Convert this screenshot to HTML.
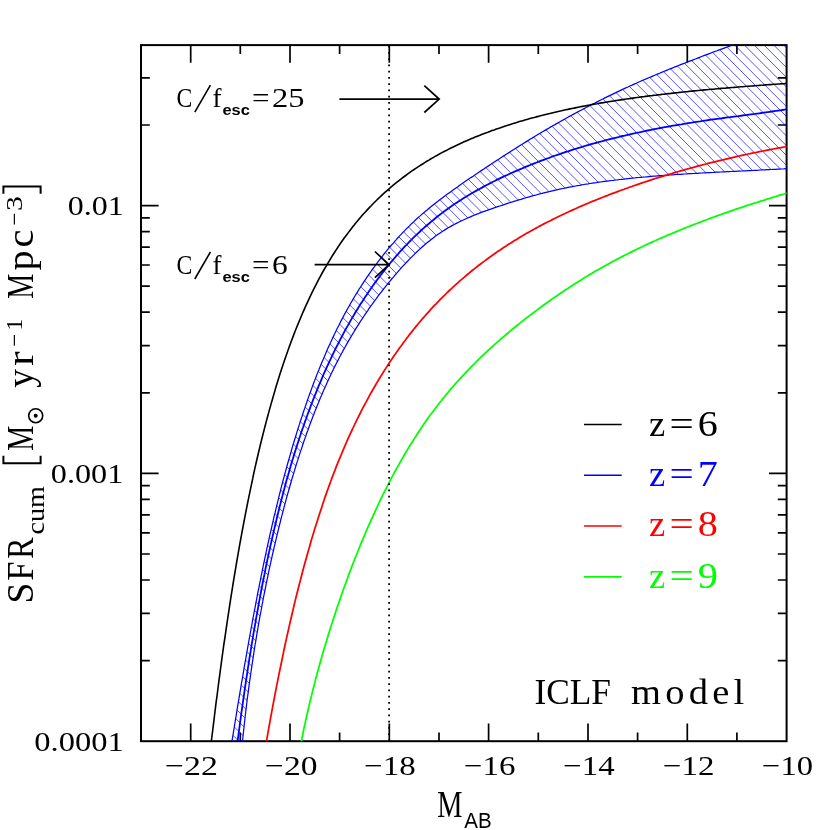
<!DOCTYPE html>
<html><head><meta charset="utf-8"><title>SFR cum</title>
<style>html,body{margin:0;padding:0;background:#fff}svg{display:block;will-change:transform}text{font-family:"Liberation Serif",serif;fill:#000}.ss{font-family:"Liberation Sans",sans-serif}</style></head><body>
<svg width="830" height="830" viewBox="0 0 830 830">
<rect width="830" height="830" fill="#fff"/>
<defs><clipPath id="fr"><rect x="141.0" y="45.1" width="645.6" height="696.1"/></clipPath>
<clipPath id="bd" clip-path="url(#fr)"><path d="M229.0,765.4 L229.7,759.4 L230.4,753.5 L231.1,747.6 L231.8,741.8 L232.8,736.2 L233.7,730.6 L234.6,725.0 L235.5,719.6 L236.4,714.2 L237.2,708.9 L238.1,703.6 L239.0,698.4 L239.8,693.3 L240.7,688.2 L241.5,683.2 L242.4,678.3 L243.2,673.4 L244.0,668.5 L244.8,663.8 L245.7,659.1 L246.5,654.4 L247.3,649.8 L248.1,645.3 L248.9,640.8 L249.7,636.4 L250.5,632.0 L251.3,627.7 L252.1,623.4 L252.8,619.2 L253.6,615.0 L254.4,610.9 L255.2,606.8 L255.9,602.8 L256.7,598.8 L257.4,594.9 L258.2,591.0 L259.0,587.2 L259.7,583.4 L260.5,579.6 L261.2,575.9 L262.0,572.2 L262.7,568.6 L263.4,565.0 L264.2,561.4 L264.9,557.9 L265.7,554.5 L266.4,551.0 L267.1,547.6 L267.8,544.3 L268.6,541.0 L269.3,537.7 L270.0,534.4 L270.8,531.2 L271.5,528.0 L272.2,524.9 L272.9,521.8 L273.6,518.7 L274.3,515.7 L275.1,512.7 L275.8,509.7 L276.5,506.7 L277.2,503.8 L277.9,500.9 L278.6,498.1 L279.3,495.2 L280.0,492.5 L280.7,489.7 L281.4,486.9 L282.1,484.2 L282.8,481.5 L283.5,478.9 L284.2,476.3 L284.9,473.7 L285.6,471.1 L286.3,468.5 L287.0,466.0 L287.7,463.5 L288.4,461.0 L289.1,458.6 L289.8,456.1 L290.5,453.7 L291.2,451.3 L291.8,449.0 L292.5,446.6 L293.2,444.3 L293.9,442.0 L294.6,439.8 L295.3,437.5 L296.0,435.3 L296.6,433.1 L297.3,430.9 L298.0,428.7 L298.7,426.6 L299.4,424.4 L300.0,422.3 L300.7,420.2 L301.4,418.2 L302.1,416.1 L302.7,414.1 L303.4,412.0 L304.1,410.0 L304.8,408.1 L305.4,406.1 L306.1,404.2 L306.8,402.2 L307.4,400.3 L308.1,398.4 L309.4,394.7 L310.8,391.0 L312.1,387.4 L313.4,383.8 L314.8,380.3 L316.1,376.8 L317.4,373.4 L318.8,370.1 L320.1,366.8 L321.4,363.6 L322.7,360.4 L324.1,357.2 L325.4,354.2 L326.7,351.1 L328.0,348.1 L329.3,345.2 L330.7,342.3 L332.0,339.4 L333.3,336.6 L334.7,333.8 L336.0,331.0 L337.3,328.3 L338.7,325.7 L340.0,323.0 L341.3,320.4 L342.7,317.9 L344.0,315.3 L345.3,312.9 L346.7,310.4 L348.0,308.0 L349.4,305.6 L350.7,303.2 L352.1,300.9 L353.4,298.6 L354.8,296.3 L356.1,294.1 L357.5,291.9 L358.8,289.7 L360.2,287.5 L361.6,285.4 L362.9,283.3 L364.3,281.2 L365.7,279.1 L367.0,277.1 L368.4,275.1 L369.8,273.1 L371.2,271.2 L372.5,269.2 L373.9,267.3 L375.3,265.4 L376.7,263.6 L378.1,261.7 L379.5,259.9 L380.9,258.1 L382.3,256.3 L383.6,254.5 L385.0,252.8 L386.4,251.1 L387.8,249.4 L389.2,247.7 L390.7,246.0 L392.1,244.4 L393.5,242.8 L394.9,241.1 L396.3,239.6 L397.7,238.0 L399.1,236.4 L400.6,234.9 L402.0,233.4 L403.4,231.9 L404.9,230.4 L406.3,228.9 L407.8,227.5 L409.2,226.1 L410.6,224.6 L412.1,223.2 L413.6,221.9 L415.7,219.8 L417.9,217.8 L420.1,215.9 L422.3,213.9 L424.6,212.0 L426.8,210.2 L429.0,208.3 L431.2,206.5 L433.4,204.7 L435.6,203.0 L437.9,201.3 L440.1,199.6 L442.3,197.9 L444.5,196.2 L446.7,194.6 L449.0,193.0 L451.2,191.4 L453.4,189.8 L455.6,188.2 L457.8,186.7 L460.0,185.1 L462.2,183.6 L464.4,182.1 L466.5,180.6 L468.7,179.1 L470.9,177.6 L473.1,176.2 L475.2,174.7 L477.4,173.3 L479.5,171.8 L481.7,170.4 L483.8,169.0 L485.9,167.5 L488.1,166.1 L490.2,164.7 L492.3,163.3 L494.4,161.9 L496.6,160.5 L498.7,159.2 L500.8,157.8 L502.9,156.4 L505.0,155.1 L507.1,153.7 L509.2,152.4 L511.3,151.0 L513.4,149.7 L515.4,148.4 L517.5,147.1 L519.6,145.8 L521.7,144.5 L523.8,143.2 L525.9,141.9 L528.0,140.6 L530.0,139.3 L532.1,138.1 L534.2,136.8 L536.3,135.5 L538.3,134.3 L540.4,133.1 L542.5,131.8 L544.6,130.6 L546.7,129.4 L548.7,128.2 L550.8,126.9 L552.9,125.7 L555.0,124.6 L557.0,123.4 L559.1,122.2 L561.2,121.0 L563.3,119.9 L565.3,118.7 L567.4,117.5 L569.5,116.4 L571.6,115.3 L573.7,114.1 L575.7,113.0 L577.8,111.9 L579.9,110.8 L582.0,109.7 L584.1,108.6 L586.1,107.5 L588.2,106.4 L590.3,105.3 L592.4,104.2 L594.5,103.2 L596.6,102.1 L598.6,101.1 L600.7,100.0 L602.8,99.0 L604.9,97.9 L607.0,96.9 L609.1,95.9 L611.2,94.9 L613.3,93.9 L615.4,92.9 L617.4,91.9 L619.5,90.9 L621.6,89.9 L623.7,88.9 L625.8,87.9 L627.9,87.0 L630.0,86.0 L632.1,85.1 L634.2,84.1 L636.3,83.2 L638.4,82.3 L640.5,81.3 L642.6,80.4 L644.7,79.5 L646.8,78.6 L648.9,77.7 L651.1,76.8 L653.2,75.9 L655.3,75.0 L657.4,74.1 L659.5,73.3 L661.6,72.4 L663.7,71.5 L665.8,70.6 L667.9,69.8 L670.0,68.9 L672.1,68.1 L674.2,67.2 L676.4,66.4 L678.5,65.5 L680.6,64.7 L682.7,63.9 L684.8,63.1 L686.9,62.2 L689.0,61.4 L691.1,60.6 L693.2,59.8 L695.4,59.0 L697.5,58.1 L699.6,57.3 L701.7,56.5 L703.8,55.7 L705.9,54.9 L708.0,54.1 L710.1,53.3 L712.2,52.5 L714.3,51.7 L716.4,51.0 L718.5,50.2 L720.7,49.4 L722.8,48.6 L724.9,47.8 L727.0,47.0 L729.1,46.3 L731.2,45.5 L733.3,44.7 L735.4,43.9 L737.5,43.2 L739.6,42.4 L741.7,41.6 L743.8,40.9 L745.9,40.1 L748.0,39.3 L750.1,38.6 L752.2,37.8 L754.3,37.1 L756.4,36.3 L758.5,35.6 L760.7,34.8 L762.8,34.1 L764.9,33.3 L767.0,32.6 L769.1,31.9 L771.2,31.1 L773.3,30.4 L775.4,29.7 L777.5,29.0 L779.6,28.2 L781.7,27.5 L783.8,26.8 L785.9,26.1 L788.0,25.3 L790.1,24.6 L791.5,24.2 L791.6,168.6 L790.1,168.6 L788.0,168.7 L785.9,168.7 L783.8,168.9 L781.7,169.0 L779.6,169.1 L777.5,169.2 L775.4,169.3 L773.3,169.4 L771.2,169.5 L769.1,169.6 L767.0,169.7 L764.9,169.8 L762.8,169.9 L760.7,170.0 L758.6,170.2 L756.5,170.3 L754.4,170.4 L752.3,170.5 L750.2,170.6 L748.1,170.7 L746.0,170.8 L743.9,170.9 L741.8,171.0 L739.7,171.1 L737.6,171.2 L735.5,171.3 L733.4,171.4 L731.2,171.5 L729.1,171.6 L727.0,171.7 L724.9,171.8 L722.8,171.9 L720.7,172.0 L718.6,172.1 L716.5,172.2 L714.4,172.3 L712.3,172.5 L710.2,172.6 L708.1,172.7 L706.0,172.8 L703.9,172.9 L701.8,173.0 L699.7,173.1 L697.6,173.3 L695.5,173.4 L693.4,173.5 L691.3,173.6 L689.2,173.7 L687.1,173.9 L684.9,174.0 L682.8,174.1 L680.7,174.3 L678.6,174.4 L676.5,174.5 L674.4,174.7 L672.3,174.8 L670.2,175.0 L668.1,175.1 L666.0,175.3 L663.9,175.4 L661.8,175.6 L659.7,175.7 L657.6,175.9 L655.5,176.1 L653.4,176.2 L651.3,176.4 L649.2,176.6 L647.0,176.8 L644.9,177.0 L642.8,177.2 L640.7,177.3 L638.6,177.5 L636.5,177.7 L634.4,178.0 L632.3,178.2 L630.2,178.4 L628.1,178.6 L626.0,178.8 L623.9,179.1 L621.8,179.3 L619.7,179.5 L617.6,179.8 L615.5,180.0 L613.4,180.3 L611.3,180.5 L609.1,180.8 L607.0,181.1 L604.9,181.4 L602.8,181.7 L600.7,182.0 L598.6,182.2 L596.5,182.6 L594.4,182.9 L592.3,183.2 L590.2,183.5 L588.1,183.9 L586.0,184.2 L583.9,184.5 L581.8,184.9 L579.7,185.3 L577.6,185.6 L575.5,186.0 L573.4,186.4 L571.3,186.8 L569.2,187.2 L567.1,187.6 L565.0,188.1 L562.9,188.5 L560.8,188.9 L558.7,189.4 L556.6,189.8 L554.5,190.3 L552.4,190.8 L550.3,191.3 L548.2,191.8 L546.1,192.3 L544.0,192.8 L541.9,193.4 L539.8,193.9 L537.7,194.5 L535.6,195.1 L533.5,195.6 L531.4,196.2 L529.3,196.8 L527.2,197.4 L525.1,198.0 L523.0,198.6 L520.9,199.3 L518.8,199.9 L516.7,200.6 L514.6,201.2 L512.5,201.9 L510.4,202.5 L508.3,203.2 L506.2,203.9 L504.1,204.6 L502.0,205.3 L499.8,206.0 L497.7,206.7 L495.6,207.4 L493.5,208.1 L491.3,208.9 L489.2,209.6 L487.0,210.4 L484.9,211.1 L482.7,211.9 L480.6,212.7 L478.4,213.6 L476.3,214.4 L474.1,215.3 L472.0,216.2 L469.8,217.1 L467.6,218.0 L465.5,219.0 L463.3,220.0 L461.1,221.0 L459.0,222.0 L456.8,223.1 L454.7,224.3 L452.5,225.4 L450.4,226.6 L448.2,227.8 L446.1,229.1 L444.0,230.4 L441.9,231.8 L439.8,233.2 L437.7,234.6 L435.6,236.1 L433.5,237.7 L431.5,239.2 L429.4,240.9 L427.4,242.5 L425.3,244.2 L423.3,246.0 L421.3,247.8 L419.3,249.6 L417.3,251.5 L415.3,253.4 L413.3,255.4 L411.3,257.4 L409.3,259.4 L407.3,261.5 L405.3,263.6 L403.3,265.7 L401.3,267.9 L399.4,270.1 L398.0,271.7 L396.7,273.2 L395.3,274.7 L394.0,276.3 L392.7,277.9 L391.3,279.5 L390.0,281.1 L388.6,282.7 L387.3,284.4 L385.9,286.1 L384.5,287.8 L383.2,289.5 L381.8,291.3 L380.4,293.1 L379.0,294.9 L377.7,296.7 L376.3,298.6 L374.9,300.4 L373.5,302.3 L372.1,304.3 L370.7,306.2 L369.3,308.2 L367.9,310.3 L366.5,312.3 L365.1,314.4 L363.7,316.5 L362.3,318.7 L360.8,320.8 L359.4,323.1 L358.0,325.3 L356.5,327.6 L355.1,329.9 L353.7,332.3 L352.2,334.7 L350.8,337.1 L349.3,339.6 L347.9,342.1 L346.4,344.6 L345.0,347.2 L343.5,349.9 L342.1,352.5 L340.6,355.3 L339.1,358.0 L337.7,360.9 L336.2,363.7 L334.7,366.6 L333.3,369.6 L331.8,372.6 L330.3,375.7 L328.9,378.8 L327.4,382.0 L326.0,385.2 L324.5,388.5 L323.0,391.8 L321.6,395.2 L320.1,398.6 L318.7,402.2 L317.2,405.7 L315.7,409.4 L314.3,413.1 L313.6,414.9 L312.8,416.8 L312.1,418.7 L311.4,420.6 L310.7,422.6 L309.9,424.5 L309.2,426.5 L308.5,428.5 L307.8,430.5 L307.0,432.5 L306.3,434.5 L305.6,436.6 L304.9,438.6 L304.1,440.7 L303.4,442.8 L302.7,445.0 L302.0,447.1 L301.3,449.3 L300.5,451.4 L299.8,453.6 L299.1,455.9 L298.4,458.1 L297.7,460.4 L296.9,462.6 L296.2,464.9 L295.5,467.2 L294.8,469.6 L294.1,471.9 L293.4,474.3 L292.6,476.7 L291.9,479.1 L291.2,481.5 L290.5,484.0 L289.8,486.5 L289.1,489.0 L288.4,491.5 L287.6,494.0 L286.9,496.6 L286.2,499.2 L285.5,501.8 L284.8,504.4 L284.1,507.1 L283.4,509.8 L282.7,512.5 L282.0,515.2 L281.3,517.9 L280.6,520.7 L279.9,523.5 L279.2,526.3 L278.5,529.2 L277.8,532.0 L277.1,534.9 L276.4,537.8 L275.7,540.8 L275.0,543.8 L274.3,546.7 L273.6,549.8 L272.9,552.8 L272.2,555.9 L271.5,559.0 L270.8,562.1 L270.1,565.3 L269.4,568.5 L268.7,571.7 L268.1,574.9 L267.4,578.2 L266.7,581.5 L266.0,584.8 L265.4,588.1 L264.7,591.5 L264.0,594.9 L263.3,598.4 L262.7,601.9 L262.0,605.4 L261.4,608.9 L260.7,612.5 L260.0,616.1 L259.4,619.7 L258.7,623.4 L258.1,627.0 L257.5,630.8 L256.8,634.5 L256.2,638.3 L255.6,642.2 L254.9,646.0 L254.3,649.9 L253.7,653.8 L253.1,657.8 L252.5,661.8 L251.9,665.8 L251.3,669.9 L250.7,674.0 L250.1,678.2 L249.5,682.3 L248.9,686.6 L248.4,690.8 L247.8,695.1 L247.2,699.4 L246.7,703.8 L246.2,708.2 L245.6,712.7 L245.1,717.2 L244.6,721.7 L244.1,726.3 L243.6,730.9 L243.1,735.5 L242.6,740.2 L241.9,744.9 L241.2,749.7 L240.5,754.5 L239.8,759.3 L239.1,764.2 L238.4,769.1Z"/></clipPath></defs>
<path d="M190.7,741.2v-17.6M190.7,45.1v17.6M240.3,741.2v-8.8M240.3,45.1v8.8M290.0,741.2v-17.6M290.0,45.1v17.6M339.6,741.2v-8.8M339.6,45.1v8.8M389.3,741.2v-17.6M389.3,45.1v17.6M439.0,741.2v-8.8M439.0,45.1v8.8M488.6,741.2v-17.6M488.6,45.1v17.6M538.3,741.2v-8.8M538.3,45.1v8.8M588.0,741.2v-17.6M588.0,45.1v17.6M637.6,741.2v-8.8M637.6,45.1v8.8M687.3,741.2v-17.6M687.3,45.1v17.6M736.9,741.2v-8.8M736.9,45.1v8.8M141.0,660.6h8.8M786.6,660.6h-8.8M141.0,613.4h8.8M786.6,613.4h-8.8M141.0,580.0h8.8M786.6,580.0h-8.8M141.0,554.0h8.8M786.6,554.0h-8.8M141.0,532.8h8.8M786.6,532.8h-8.8M141.0,514.9h8.8M786.6,514.9h-8.8M141.0,499.4h8.8M786.6,499.4h-8.8M141.0,485.7h8.8M786.6,485.7h-8.8M141.0,473.4h17.6M786.6,473.4h-17.6M141.0,392.8h8.8M786.6,392.8h-8.8M141.0,345.6h8.8M786.6,345.6h-8.8M141.0,312.2h8.8M786.6,312.2h-8.8M141.0,286.2h8.8M786.6,286.2h-8.8M141.0,265.0h8.8M786.6,265.0h-8.8M141.0,247.1h8.8M786.6,247.1h-8.8M141.0,231.6h8.8M786.6,231.6h-8.8M141.0,217.9h8.8M786.6,217.9h-8.8M141.0,205.6h17.6M786.6,205.6h-17.6M141.0,125.0h8.8M786.6,125.0h-8.8M141.0,77.8h8.8M786.6,77.8h-8.8" stroke="#000" stroke-width="1.7" fill="none"/>
<rect x="141.0" y="45.1" width="645.6" height="696.1" fill="none" stroke="#000" stroke-width="2"/>
<g clip-path="url(#bd)"><path d="M130,-637.73L800,32.27M130,-627.96L800,42.04M130,-618.19L800,51.81M130,-608.42L800,61.58M130,-598.65L800,71.35M130,-588.88L800,81.12M130,-579.11L800,90.89M130,-569.34L800,100.66M130,-559.57L800,110.43M130,-549.80L800,120.20M130,-540.03L800,129.97M130,-530.26L800,139.74M130,-520.49L800,149.51M130,-510.72L800,159.28M130,-500.95L800,169.05M130,-491.18L800,178.82M130,-481.41L800,188.59M130,-471.64L800,198.36M130,-461.87L800,208.13M130,-452.10L800,217.90M130,-442.33L800,227.67M130,-432.56L800,237.44M130,-422.79L800,247.21M130,-413.02L800,256.98M130,-403.25L800,266.75M130,-393.48L800,276.52M130,-383.71L800,286.29M130,-373.94L800,296.06M130,-364.17L800,305.83M130,-354.40L800,315.60M130,-344.63L800,325.37M130,-334.86L800,335.14M130,-325.09L800,344.91M130,-315.32L800,354.68M130,-305.55L800,364.45M130,-295.78L800,374.22M130,-286.01L800,383.99M130,-276.24L800,393.76M130,-266.47L800,403.53M130,-256.70L800,413.30M130,-246.93L800,423.07M130,-237.16L800,432.84M130,-227.39L800,442.61M130,-217.62L800,452.38M130,-207.85L800,462.15M130,-198.08L800,471.92M130,-188.31L800,481.69M130,-178.54L800,491.46M130,-168.77L800,501.23M130,-159.00L800,511.00M130,-149.23L800,520.77M130,-139.46L800,530.54M130,-129.69L800,540.31M130,-119.92L800,550.08M130,-110.15L800,559.85M130,-100.38L800,569.62M130,-90.61L800,579.39M130,-80.84L800,589.16M130,-71.07L800,598.93M130,-61.30L800,608.70M130,-51.53L800,618.47M130,-41.76L800,628.24M130,-31.99L800,638.01M130,-22.22L800,647.78M130,-12.45L800,657.55M130,-2.68L800,667.32M130,7.09L800,677.09M130,16.86L800,686.86M130,26.63L800,696.63M130,36.40L800,706.40M130,46.17L800,716.17M130,55.94L800,725.94M130,65.71L800,735.71M130,75.48L800,745.48M130,85.25L800,755.25M130,95.02L800,765.02M130,104.79L800,774.79M130,114.56L800,784.56M130,124.33L800,794.33M130,134.10L800,804.10M130,143.87L800,813.87M130,153.64L800,823.64M130,163.41L800,833.41M130,173.18L800,843.18M130,182.95L800,852.95M130,192.72L800,862.72M130,202.49L800,872.49M130,212.26L800,882.26M130,222.03L800,892.03M130,231.80L800,901.80M130,241.57L800,911.57M130,251.34L800,921.34M130,261.11L800,931.11M130,270.88L800,940.88M130,280.65L800,950.65M130,290.42L800,960.42M130,300.19L800,970.19M130,309.96L800,979.96M130,319.73L800,989.73M130,329.50L800,999.50M130,339.27L800,1009.27M130,349.04L800,1019.04M130,358.81L800,1028.81M130,368.58L800,1038.58M130,378.35L800,1048.35M130,388.12L800,1058.12M130,397.89L800,1067.89M130,407.66L800,1077.66M130,417.43L800,1087.43M130,427.20L800,1097.20M130,436.97L800,1106.97M130,446.74L800,1116.74M130,456.51L800,1126.51M130,466.28L800,1136.28M130,476.05L800,1146.05M130,485.82L800,1155.82M130,495.59L800,1165.59M130,505.36L800,1175.36M130,515.13L800,1185.13M130,524.90L800,1194.90M130,534.67L800,1204.67M130,544.44L800,1214.44M130,554.21L800,1224.21M130,563.98L800,1233.98M130,573.75L800,1243.75M130,583.52L800,1253.52M130,593.29L800,1263.29M130,603.06L800,1273.06M130,612.83L800,1282.83M130,622.60L800,1292.60M130,632.37L800,1302.37M130,642.14L800,1312.14M130,651.91L800,1321.91M130,661.68L800,1331.68M130,671.45L800,1341.45M130,681.22L800,1351.22M130,690.99L800,1360.99M130,700.76L800,1370.76M130,710.53L800,1380.53M130,720.30L800,1390.30M130,730.07L800,1400.07M130,739.84L800,1409.84M130,749.61L800,1419.61M130,759.38L800,1429.38" stroke="#0000ff" stroke-width="0.68" fill="none"/></g>
<g clip-path="url(#fr)" fill="none" stroke-linejoin="round">
<path d="M229.0,765.4 L229.7,759.4 L230.4,753.5 L231.1,747.6 L231.8,741.8 L232.8,736.2 L233.7,730.6 L234.6,725.0 L235.5,719.6 L236.4,714.2 L237.2,708.9 L238.1,703.6 L239.0,698.4 L239.8,693.3 L240.7,688.2 L241.5,683.2 L242.4,678.3 L243.2,673.4 L244.0,668.5 L244.8,663.8 L245.7,659.1 L246.5,654.4 L247.3,649.8 L248.1,645.3 L248.9,640.8 L249.7,636.4 L250.5,632.0 L251.3,627.7 L252.1,623.4 L252.8,619.2 L253.6,615.0 L254.4,610.9 L255.2,606.8 L255.9,602.8 L256.7,598.8 L257.4,594.9 L258.2,591.0 L259.0,587.2 L259.7,583.4 L260.5,579.6 L261.2,575.9 L262.0,572.2 L262.7,568.6 L263.4,565.0 L264.2,561.4 L264.9,557.9 L265.7,554.5 L266.4,551.0 L267.1,547.6 L267.8,544.3 L268.6,541.0 L269.3,537.7 L270.0,534.4 L270.8,531.2 L271.5,528.0 L272.2,524.9 L272.9,521.8 L273.6,518.7 L274.3,515.7 L275.1,512.7 L275.8,509.7 L276.5,506.7 L277.2,503.8 L277.9,500.9 L278.6,498.1 L279.3,495.2 L280.0,492.5 L280.7,489.7 L281.4,486.9 L282.1,484.2 L282.8,481.5 L283.5,478.9 L284.2,476.3 L284.9,473.7 L285.6,471.1 L286.3,468.5 L287.0,466.0 L287.7,463.5 L288.4,461.0 L289.1,458.6 L289.8,456.1 L290.5,453.7 L291.2,451.3 L291.8,449.0 L292.5,446.6 L293.2,444.3 L293.9,442.0 L294.6,439.8 L295.3,437.5 L296.0,435.3 L296.6,433.1 L297.3,430.9 L298.0,428.7 L298.7,426.6 L299.4,424.4 L300.0,422.3 L300.7,420.2 L301.4,418.2 L302.1,416.1 L302.7,414.1 L303.4,412.0 L304.1,410.0 L304.8,408.1 L305.4,406.1 L306.1,404.2 L306.8,402.2 L307.4,400.3 L308.1,398.4 L309.4,394.7 L310.8,391.0 L312.1,387.4 L313.4,383.8 L314.8,380.3 L316.1,376.8 L317.4,373.4 L318.8,370.1 L320.1,366.8 L321.4,363.6 L322.7,360.4 L324.1,357.2 L325.4,354.2 L326.7,351.1 L328.0,348.1 L329.3,345.2 L330.7,342.3 L332.0,339.4 L333.3,336.6 L334.7,333.8 L336.0,331.0 L337.3,328.3 L338.7,325.7 L340.0,323.0 L341.3,320.4 L342.7,317.9 L344.0,315.3 L345.3,312.9 L346.7,310.4 L348.0,308.0 L349.4,305.6 L350.7,303.2 L352.1,300.9 L353.4,298.6 L354.8,296.3 L356.1,294.1 L357.5,291.9 L358.8,289.7 L360.2,287.5 L361.6,285.4 L362.9,283.3 L364.3,281.2 L365.7,279.1 L367.0,277.1 L368.4,275.1 L369.8,273.1 L371.2,271.2 L372.5,269.2 L373.9,267.3 L375.3,265.4 L376.7,263.6 L378.1,261.7 L379.5,259.9 L380.9,258.1 L382.3,256.3 L383.6,254.5 L385.0,252.8 L386.4,251.1 L387.8,249.4 L389.2,247.7 L390.7,246.0 L392.1,244.4 L393.5,242.8 L394.9,241.1 L396.3,239.6 L397.7,238.0 L399.1,236.4 L400.6,234.9 L402.0,233.4 L403.4,231.9 L404.9,230.4 L406.3,228.9 L407.8,227.5 L409.2,226.1 L410.6,224.6 L412.1,223.2 L413.6,221.9 L415.7,219.8 L417.9,217.8 L420.1,215.9 L422.3,213.9 L424.6,212.0 L426.8,210.2 L429.0,208.3 L431.2,206.5 L433.4,204.7 L435.6,203.0 L437.9,201.3 L440.1,199.6 L442.3,197.9 L444.5,196.2 L446.7,194.6 L449.0,193.0 L451.2,191.4 L453.4,189.8 L455.6,188.2 L457.8,186.7 L460.0,185.1 L462.2,183.6 L464.4,182.1 L466.5,180.6 L468.7,179.1 L470.9,177.6 L473.1,176.2 L475.2,174.7 L477.4,173.3 L479.5,171.8 L481.7,170.4 L483.8,169.0 L485.9,167.5 L488.1,166.1 L490.2,164.7 L492.3,163.3 L494.4,161.9 L496.6,160.5 L498.7,159.2 L500.8,157.8 L502.9,156.4 L505.0,155.1 L507.1,153.7 L509.2,152.4 L511.3,151.0 L513.4,149.7 L515.4,148.4 L517.5,147.1 L519.6,145.8 L521.7,144.5 L523.8,143.2 L525.9,141.9 L528.0,140.6 L530.0,139.3 L532.1,138.1 L534.2,136.8 L536.3,135.5 L538.3,134.3 L540.4,133.1 L542.5,131.8 L544.6,130.6 L546.7,129.4 L548.7,128.2 L550.8,126.9 L552.9,125.7 L555.0,124.6 L557.0,123.4 L559.1,122.2 L561.2,121.0 L563.3,119.9 L565.3,118.7 L567.4,117.5 L569.5,116.4 L571.6,115.3 L573.7,114.1 L575.7,113.0 L577.8,111.9 L579.9,110.8 L582.0,109.7 L584.1,108.6 L586.1,107.5 L588.2,106.4 L590.3,105.3 L592.4,104.2 L594.5,103.2 L596.6,102.1 L598.6,101.1 L600.7,100.0 L602.8,99.0 L604.9,97.9 L607.0,96.9 L609.1,95.9 L611.2,94.9 L613.3,93.9 L615.4,92.9 L617.4,91.9 L619.5,90.9 L621.6,89.9 L623.7,88.9 L625.8,87.9 L627.9,87.0 L630.0,86.0 L632.1,85.1 L634.2,84.1 L636.3,83.2 L638.4,82.3 L640.5,81.3 L642.6,80.4 L644.7,79.5 L646.8,78.6 L648.9,77.7 L651.1,76.8 L653.2,75.9 L655.3,75.0 L657.4,74.1 L659.5,73.3 L661.6,72.4 L663.7,71.5 L665.8,70.6 L667.9,69.8 L670.0,68.9 L672.1,68.1 L674.2,67.2 L676.4,66.4 L678.5,65.5 L680.6,64.7 L682.7,63.9 L684.8,63.1 L686.9,62.2 L689.0,61.4 L691.1,60.6 L693.2,59.8 L695.4,59.0 L697.5,58.1 L699.6,57.3 L701.7,56.5 L703.8,55.7 L705.9,54.9 L708.0,54.1 L710.1,53.3 L712.2,52.5 L714.3,51.7 L716.4,51.0 L718.5,50.2 L720.7,49.4 L722.8,48.6 L724.9,47.8 L727.0,47.0 L729.1,46.3 L731.2,45.5 L733.3,44.7 L735.4,43.9 L737.5,43.2 L739.6,42.4 L741.7,41.6 L743.8,40.9 L745.9,40.1 L748.0,39.3 L750.1,38.6 L752.2,37.8 L754.3,37.1 L756.4,36.3 L758.5,35.6 L760.7,34.8 L762.8,34.1 L764.9,33.3 L767.0,32.6 L769.1,31.9 L771.2,31.1 L773.3,30.4 L775.4,29.7 L777.5,29.0 L779.6,28.2 L781.7,27.5 L783.8,26.8 L785.9,26.1 L788.0,25.3 L790.1,24.6 L791.5,24.2" stroke="#0000ff" stroke-width="1.25"/>
<path d="M238.4,769.1 L239.1,764.2 L239.8,759.3 L240.5,754.5 L241.2,749.7 L241.9,744.9 L242.6,740.2 L243.1,735.5 L243.6,730.9 L244.1,726.3 L244.6,721.7 L245.1,717.2 L245.6,712.7 L246.2,708.2 L246.7,703.8 L247.2,699.4 L247.8,695.1 L248.4,690.8 L248.9,686.6 L249.5,682.3 L250.1,678.2 L250.7,674.0 L251.3,669.9 L251.9,665.8 L252.5,661.8 L253.1,657.8 L253.7,653.8 L254.3,649.9 L254.9,646.0 L255.6,642.2 L256.2,638.3 L256.8,634.5 L257.5,630.8 L258.1,627.0 L258.7,623.4 L259.4,619.7 L260.0,616.1 L260.7,612.5 L261.4,608.9 L262.0,605.4 L262.7,601.9 L263.3,598.4 L264.0,594.9 L264.7,591.5 L265.4,588.1 L266.0,584.8 L266.7,581.5 L267.4,578.2 L268.1,574.9 L268.7,571.7 L269.4,568.5 L270.1,565.3 L270.8,562.1 L271.5,559.0 L272.2,555.9 L272.9,552.8 L273.6,549.8 L274.3,546.7 L275.0,543.8 L275.7,540.8 L276.4,537.8 L277.1,534.9 L277.8,532.0 L278.5,529.2 L279.2,526.3 L279.9,523.5 L280.6,520.7 L281.3,517.9 L282.0,515.2 L282.7,512.5 L283.4,509.8 L284.1,507.1 L284.8,504.4 L285.5,501.8 L286.2,499.2 L286.9,496.6 L287.6,494.0 L288.4,491.5 L289.1,489.0 L289.8,486.5 L290.5,484.0 L291.2,481.5 L291.9,479.1 L292.6,476.7 L293.4,474.3 L294.1,471.9 L294.8,469.6 L295.5,467.2 L296.2,464.9 L296.9,462.6 L297.7,460.4 L298.4,458.1 L299.1,455.9 L299.8,453.6 L300.5,451.4 L301.3,449.3 L302.0,447.1 L302.7,445.0 L303.4,442.8 L304.1,440.7 L304.9,438.6 L305.6,436.6 L306.3,434.5 L307.0,432.5 L307.8,430.5 L308.5,428.5 L309.2,426.5 L309.9,424.5 L310.7,422.6 L311.4,420.6 L312.1,418.7 L312.8,416.8 L313.6,414.9 L314.3,413.1 L315.7,409.4 L317.2,405.7 L318.7,402.2 L320.1,398.6 L321.6,395.2 L323.0,391.8 L324.5,388.5 L326.0,385.2 L327.4,382.0 L328.9,378.8 L330.3,375.7 L331.8,372.6 L333.3,369.6 L334.7,366.6 L336.2,363.7 L337.7,360.9 L339.1,358.0 L340.6,355.3 L342.1,352.5 L343.5,349.9 L345.0,347.2 L346.4,344.6 L347.9,342.1 L349.3,339.6 L350.8,337.1 L352.2,334.7 L353.7,332.3 L355.1,329.9 L356.5,327.6 L358.0,325.3 L359.4,323.1 L360.8,320.8 L362.3,318.7 L363.7,316.5 L365.1,314.4 L366.5,312.3 L367.9,310.3 L369.3,308.2 L370.7,306.2 L372.1,304.3 L373.5,302.3 L374.9,300.4 L376.3,298.6 L377.7,296.7 L379.0,294.9 L380.4,293.1 L381.8,291.3 L383.2,289.5 L384.5,287.8 L385.9,286.1 L387.3,284.4 L388.6,282.7 L390.0,281.1 L391.3,279.5 L392.7,277.9 L394.0,276.3 L395.3,274.7 L396.7,273.2 L398.0,271.7 L399.4,270.1 L401.3,267.9 L403.3,265.7 L405.3,263.6 L407.3,261.5 L409.3,259.4 L411.3,257.4 L413.3,255.4 L415.3,253.4 L417.3,251.5 L419.3,249.6 L421.3,247.8 L423.3,246.0 L425.3,244.2 L427.4,242.5 L429.4,240.9 L431.5,239.2 L433.5,237.7 L435.6,236.1 L437.7,234.6 L439.8,233.2 L441.9,231.8 L444.0,230.4 L446.1,229.1 L448.2,227.8 L450.4,226.6 L452.5,225.4 L454.7,224.3 L456.8,223.1 L459.0,222.0 L461.1,221.0 L463.3,220.0 L465.5,219.0 L467.6,218.0 L469.8,217.1 L472.0,216.2 L474.1,215.3 L476.3,214.4 L478.4,213.6 L480.6,212.7 L482.7,211.9 L484.9,211.1 L487.0,210.4 L489.2,209.6 L491.3,208.9 L493.5,208.1 L495.6,207.4 L497.7,206.7 L499.8,206.0 L502.0,205.3 L504.1,204.6 L506.2,203.9 L508.3,203.2 L510.4,202.5 L512.5,201.9 L514.6,201.2 L516.7,200.6 L518.8,199.9 L520.9,199.3 L523.0,198.6 L525.1,198.0 L527.2,197.4 L529.3,196.8 L531.4,196.2 L533.5,195.6 L535.6,195.1 L537.7,194.5 L539.8,193.9 L541.9,193.4 L544.0,192.8 L546.1,192.3 L548.2,191.8 L550.3,191.3 L552.4,190.8 L554.5,190.3 L556.6,189.8 L558.7,189.4 L560.8,188.9 L562.9,188.5 L565.0,188.1 L567.1,187.6 L569.2,187.2 L571.3,186.8 L573.4,186.4 L575.5,186.0 L577.6,185.6 L579.7,185.3 L581.8,184.9 L583.9,184.5 L586.0,184.2 L588.1,183.9 L590.2,183.5 L592.3,183.2 L594.4,182.9 L596.5,182.6 L598.6,182.2 L600.7,182.0 L602.8,181.7 L604.9,181.4 L607.0,181.1 L609.1,180.8 L611.3,180.5 L613.4,180.3 L615.5,180.0 L617.6,179.8 L619.7,179.5 L621.8,179.3 L623.9,179.1 L626.0,178.8 L628.1,178.6 L630.2,178.4 L632.3,178.2 L634.4,178.0 L636.5,177.7 L638.6,177.5 L640.7,177.3 L642.8,177.2 L644.9,177.0 L647.0,176.8 L649.2,176.6 L651.3,176.4 L653.4,176.2 L655.5,176.1 L657.6,175.9 L659.7,175.7 L661.8,175.6 L663.9,175.4 L666.0,175.3 L668.1,175.1 L670.2,175.0 L672.3,174.8 L674.4,174.7 L676.5,174.5 L678.6,174.4 L680.7,174.3 L682.8,174.1 L684.9,174.0 L687.1,173.9 L689.2,173.7 L691.3,173.6 L693.4,173.5 L695.5,173.4 L697.6,173.3 L699.7,173.1 L701.8,173.0 L703.9,172.9 L706.0,172.8 L708.1,172.7 L710.2,172.6 L712.3,172.5 L714.4,172.3 L716.5,172.2 L718.6,172.1 L720.7,172.0 L722.8,171.9 L724.9,171.8 L727.0,171.7 L729.1,171.6 L731.2,171.5 L733.4,171.4 L735.5,171.3 L737.6,171.2 L739.7,171.1 L741.8,171.0 L743.9,170.9 L746.0,170.8 L748.1,170.7 L750.2,170.6 L752.3,170.5 L754.4,170.4 L756.5,170.3 L758.6,170.2 L760.7,170.0 L762.8,169.9 L764.9,169.8 L767.0,169.7 L769.1,169.6 L771.2,169.5 L773.3,169.4 L775.4,169.3 L777.5,169.2 L779.6,169.1 L781.7,169.0 L783.8,168.9 L785.9,168.7 L788.0,168.7 L790.1,168.6 L791.6,168.6" stroke="#0000ff" stroke-width="1.25"/>
<path d="M294.9,770.3 L295.6,767.0 L296.3,763.8 L297.0,760.6 L297.7,757.4 L298.4,754.2 L299.1,751.1 L299.8,747.9 L300.5,744.8 L301.2,741.8 L301.9,738.7 L302.5,735.7 L303.1,732.6 L303.7,729.6 L304.3,726.7 L305.0,723.7 L305.6,720.8 L306.3,717.8 L306.9,715.0 L307.6,712.1 L308.2,709.2 L308.9,706.4 L309.5,703.6 L310.2,700.8 L310.9,698.1 L311.6,695.3 L312.2,692.6 L312.9,689.9 L313.6,687.2 L314.3,684.5 L315.0,681.9 L315.6,679.3 L316.3,676.7 L317.0,674.1 L317.7,671.5 L318.4,668.9 L319.1,666.4 L319.8,663.9 L320.5,661.4 L321.2,658.9 L321.9,656.5 L322.6,654.0 L323.3,651.6 L324.0,649.2 L324.7,646.8 L325.4,644.4 L326.2,642.0 L326.9,639.7 L327.6,637.4 L328.3,635.1 L329.0,632.8 L329.7,630.5 L330.4,628.2 L331.1,626.0 L331.8,623.8 L332.6,621.5 L333.3,619.3 L334.0,617.1 L334.7,615.0 L335.4,612.8 L336.1,610.7 L336.8,608.5 L337.5,606.4 L338.3,604.3 L339.0,602.2 L339.7,600.2 L340.4,598.1 L341.1,596.1 L341.8,594.0 L342.5,592.0 L343.2,590.0 L343.9,588.0 L344.6,586.0 L345.4,584.1 L346.1,582.1 L346.8,580.2 L347.5,578.2 L348.2,576.3 L348.9,574.4 L349.6,572.5 L350.3,570.7 L351.7,566.9 L353.1,563.3 L354.5,559.6 L356.0,556.0 L357.4,552.5 L358.8,549.0 L360.2,545.6 L361.6,542.2 L363.0,538.8 L364.4,535.5 L365.8,532.2 L367.2,528.9 L368.6,525.7 L370.0,522.6 L371.4,519.4 L372.8,516.3 L374.2,513.3 L375.6,510.3 L377.0,507.3 L378.3,504.3 L379.7,501.4 L381.1,498.5 L382.5,495.7 L383.9,492.9 L385.3,490.1 L386.7,487.3 L388.1,484.6 L389.5,481.9 L390.8,479.3 L392.2,476.7 L393.6,474.1 L395.0,471.5 L396.4,468.9 L397.8,466.4 L399.2,463.9 L400.6,461.5 L401.9,459.1 L403.3,456.7 L404.7,454.3 L406.1,451.9 L407.5,449.6 L408.9,447.3 L410.3,445.0 L411.7,442.8 L413.1,440.6 L414.5,438.4 L415.9,436.2 L417.3,434.0 L418.7,431.9 L420.1,429.8 L421.5,427.7 L422.9,425.6 L424.3,423.6 L425.7,421.6 L427.1,419.6 L428.5,417.6 L429.9,415.6 L431.3,413.7 L432.8,411.8 L434.2,409.9 L435.6,408.0 L437.0,406.2 L438.4,404.3 L439.8,402.5 L441.3,400.7 L442.7,398.9 L444.1,397.2 L445.5,395.4 L447.0,393.7 L448.4,392.0 L449.8,390.3 L451.2,388.6 L452.7,387.0 L454.1,385.3 L455.5,383.7 L456.9,382.1 L458.4,380.5 L459.8,378.9 L461.2,377.4 L462.7,375.8 L464.1,374.3 L465.5,372.8 L466.9,371.3 L468.4,369.8 L469.8,368.3 L471.2,366.8 L472.7,365.4 L474.1,364.0 L475.5,362.5 L476.9,361.1 L479.1,359.0 L481.2,356.9 L483.4,354.9 L485.5,352.9 L487.6,350.9 L489.8,348.9 L491.9,347.0 L494.0,345.1 L496.1,343.2 L498.3,341.3 L500.4,339.4 L502.5,337.6 L504.6,335.8 L506.7,334.0 L508.9,332.2 L511.0,330.4 L513.1,328.7 L515.2,327.0 L517.3,325.3 L519.4,323.6 L521.5,321.9 L523.6,320.3 L525.7,318.6 L527.8,317.0 L529.9,315.4 L532.0,313.8 L534.1,312.2 L536.2,310.6 L538.2,309.1 L540.3,307.5 L542.4,306.0 L544.5,304.5 L546.6,303.0 L548.7,301.5 L550.7,300.0 L552.8,298.6 L554.9,297.1 L557.0,295.7 L559.1,294.2 L561.1,292.8 L563.2,291.4 L565.3,290.0 L567.4,288.7 L569.5,287.3 L571.5,286.0 L573.6,284.6 L575.7,283.3 L577.8,282.0 L579.9,280.7 L581.9,279.4 L584.0,278.1 L586.1,276.8 L588.2,275.6 L590.3,274.3 L592.4,273.1 L594.4,271.8 L596.5,270.6 L598.6,269.4 L600.7,268.2 L602.8,267.1 L604.9,265.9 L607.0,264.7 L609.1,263.6 L611.1,262.4 L613.2,261.3 L615.3,260.2 L617.4,259.1 L619.5,258.0 L621.6,256.9 L623.7,255.8 L625.8,254.7 L627.9,253.7 L630.0,252.6 L632.1,251.6 L634.2,250.5 L636.3,249.5 L638.4,248.5 L640.5,247.5 L642.6,246.5 L644.7,245.5 L646.8,244.5 L648.9,243.5 L651.0,242.6 L653.1,241.6 L655.2,240.7 L657.3,239.7 L659.4,238.8 L661.5,237.9 L663.7,237.0 L665.8,236.0 L667.9,235.1 L670.0,234.2 L672.1,233.4 L674.2,232.5 L676.3,231.6 L678.4,230.7 L680.5,229.9 L682.6,229.0 L684.7,228.1 L686.9,227.3 L689.0,226.5 L691.1,225.6 L693.2,224.8 L695.3,224.0 L697.4,223.2 L699.5,222.4 L701.6,221.6 L703.7,220.8 L705.9,220.0 L708.0,219.2 L710.1,218.4 L712.2,217.6 L714.3,216.9 L716.4,216.1 L718.5,215.3 L720.6,214.6 L722.8,213.8 L724.9,213.1 L727.0,212.4 L729.1,211.6 L731.2,210.9 L733.3,210.2 L735.4,209.4 L737.5,208.7 L739.7,208.0 L741.8,207.3 L743.9,206.6 L746.0,205.9 L748.1,205.2 L750.2,204.5 L752.3,203.8 L754.4,203.1 L756.6,202.5 L758.7,201.8 L760.8,201.1 L762.9,200.5 L765.0,199.8 L767.1,199.1 L769.2,198.5 L771.3,197.8 L773.4,197.2 L775.6,196.5 L777.7,195.9 L779.8,195.2 L781.9,194.6 L784.0,194.0 L786.1,193.3 L788.2,192.7 L790.3,192.1 L791.7,191.6" stroke="#00ff00" stroke-width="1.75"/>
<path d="M261.6,770.3 L262.3,766.0 L263.0,761.8 L263.7,757.6 L264.4,753.4 L265.1,749.3 L265.8,745.2 L266.5,741.1 L267.2,737.1 L267.9,733.1 L268.6,729.1 L269.3,725.2 L270.0,721.3 L270.7,717.4 L271.4,713.6 L272.1,709.8 L272.8,706.1 L273.5,702.4 L274.2,698.7 L274.9,695.0 L275.6,691.4 L276.3,687.8 L277.0,684.2 L277.7,680.7 L278.4,677.2 L279.1,673.7 L279.8,670.3 L280.5,666.8 L281.2,663.5 L281.9,660.1 L282.6,656.8 L283.3,653.5 L283.9,650.2 L284.6,647.0 L285.3,643.7 L286.0,640.6 L286.7,637.4 L287.4,634.3 L288.1,631.2 L288.8,628.1 L289.5,625.0 L290.2,622.0 L290.9,619.0 L291.6,616.0 L292.3,613.0 L293.0,610.1 L293.6,607.2 L294.3,604.3 L295.0,601.4 L295.7,598.6 L296.4,595.8 L297.1,593.0 L297.8,590.2 L298.5,587.5 L299.2,584.8 L299.9,582.1 L300.6,579.4 L301.3,576.7 L302.0,574.1 L302.6,571.5 L303.3,568.9 L304.0,566.3 L304.7,563.8 L305.4,561.2 L306.1,558.7 L306.8,556.2 L307.5,553.8 L308.2,551.3 L308.9,548.9 L309.6,546.5 L310.3,544.1 L310.9,541.7 L311.6,539.3 L312.3,537.0 L313.0,534.7 L313.7,532.4 L314.4,530.1 L315.1,527.8 L315.8,525.6 L316.5,523.4 L317.2,521.2 L317.9,519.0 L318.6,516.8 L319.3,514.6 L320.0,512.5 L320.7,510.4 L321.4,508.2 L322.1,506.1 L322.7,504.1 L323.4,502.0 L324.1,500.0 L324.8,497.9 L325.5,495.9 L326.2,493.9 L326.9,491.9 L327.6,490.0 L328.3,488.0 L329.0,486.1 L329.7,484.1 L330.4,482.2 L331.1,480.3 L331.8,478.4 L333.2,474.7 L334.6,471.1 L336.0,467.4 L337.4,463.9 L338.8,460.4 L340.3,456.9 L341.7,453.5 L343.1,450.2 L344.5,446.9 L345.9,443.6 L347.3,440.4 L348.7,437.2 L350.1,434.1 L351.6,431.0 L353.0,428.0 L354.4,425.0 L355.8,422.1 L357.2,419.2 L358.7,416.3 L360.1,413.5 L361.5,410.7 L362.9,407.9 L364.3,405.2 L365.8,402.6 L367.2,399.9 L368.6,397.3 L370.0,394.7 L371.4,392.2 L372.8,389.7 L374.3,387.2 L375.7,384.8 L377.1,382.4 L378.5,380.0 L379.9,377.7 L381.3,375.4 L382.8,373.1 L384.2,370.8 L385.6,368.6 L387.0,366.4 L388.4,364.2 L389.8,362.1 L391.2,360.0 L392.6,357.9 L394.0,355.8 L395.5,353.8 L396.9,351.8 L398.3,349.8 L399.7,347.8 L401.1,345.9 L402.5,343.9 L403.9,342.0 L405.3,340.2 L406.7,338.3 L408.1,336.5 L409.5,334.6 L410.9,332.9 L412.3,331.1 L413.7,329.3 L415.1,327.6 L416.5,325.9 L417.9,324.2 L419.3,322.5 L420.7,320.9 L422.1,319.2 L423.5,317.6 L424.9,316.0 L426.3,314.4 L427.7,312.8 L429.1,311.3 L430.5,309.7 L431.9,308.2 L433.3,306.7 L434.7,305.2 L436.1,303.8 L437.5,302.3 L438.9,300.9 L441.0,298.7 L443.1,296.6 L445.2,294.6 L447.3,292.5 L449.4,290.5 L451.5,288.6 L453.6,286.6 L455.7,284.7 L457.8,282.8 L459.9,280.9 L462.0,279.1 L464.1,277.3 L466.2,275.5 L468.3,273.8 L470.4,272.0 L472.5,270.3 L474.6,268.6 L476.7,267.0 L478.8,265.3 L480.9,263.7 L483.0,262.1 L485.1,260.6 L487.2,259.0 L489.3,257.5 L491.4,256.0 L493.5,254.5 L495.6,253.0 L497.7,251.6 L499.8,250.2 L501.9,248.7 L504.0,247.3 L506.1,246.0 L508.2,244.6 L510.3,243.3 L512.4,241.9 L514.5,240.6 L516.6,239.4 L518.7,238.1 L520.8,236.8 L522.9,235.6 L525.0,234.3 L527.1,233.1 L529.2,231.9 L531.3,230.7 L533.4,229.6 L535.5,228.4 L537.6,227.3 L539.7,226.1 L541.8,225.0 L543.9,223.9 L546.1,222.8 L548.2,221.7 L550.3,220.7 L552.4,219.6 L554.5,218.5 L556.6,217.5 L558.7,216.5 L560.8,215.5 L562.9,214.5 L565.0,213.5 L567.1,212.5 L569.2,211.5 L571.3,210.6 L573.4,209.6 L575.5,208.7 L577.6,207.7 L579.7,206.8 L581.8,205.9 L583.9,205.0 L586.0,204.1 L588.1,203.2 L590.2,202.3 L592.4,201.4 L594.5,200.6 L596.6,199.7 L598.7,198.9 L600.8,198.0 L602.9,197.2 L605.0,196.4 L607.1,195.6 L609.2,194.7 L611.3,193.9 L613.4,193.1 L615.5,192.4 L617.6,191.6 L619.7,190.8 L621.8,190.0 L623.9,189.3 L626.0,188.5 L628.1,187.8 L630.2,187.0 L632.3,186.3 L634.4,185.5 L636.5,184.8 L638.6,184.1 L640.7,183.4 L642.8,182.7 L644.9,182.0 L647.0,181.3 L649.1,180.6 L651.2,179.9 L653.3,179.2 L655.4,178.5 L657.5,177.9 L659.6,177.2 L661.7,176.6 L663.8,175.9 L665.9,175.3 L668.0,174.6 L670.2,174.0 L672.3,173.4 L674.4,172.7 L676.5,172.1 L678.6,171.5 L680.7,170.9 L682.8,170.3 L684.9,169.7 L687.0,169.1 L689.1,168.5 L691.2,167.9 L693.3,167.3 L695.4,166.8 L697.5,166.2 L699.6,165.6 L701.7,165.1 L703.8,164.5 L705.9,164.0 L708.0,163.4 L710.1,162.9 L712.2,162.4 L714.4,161.8 L716.5,161.3 L718.6,160.8 L720.7,160.3 L722.8,159.8 L724.9,159.3 L727.0,158.8 L729.1,158.3 L731.2,157.8 L733.3,157.3 L735.4,156.8 L737.5,156.3 L739.6,155.9 L741.8,155.4 L743.9,154.9 L746.0,154.5 L748.1,154.0 L750.2,153.6 L752.3,153.1 L754.4,152.7 L756.5,152.3 L758.6,151.8 L760.8,151.4 L762.9,151.0 L765.0,150.6 L767.1,150.2 L769.2,149.8 L771.3,149.4 L773.4,149.0 L775.5,148.6 L777.7,148.2 L779.8,147.8 L781.9,147.4 L784.0,147.0 L786.1,146.7 L788.2,146.3 L790.3,145.8 L791.7,145.6" stroke="#ff0000" stroke-width="1.75"/>
<path d="M234.0,767.5 L234.7,762.3 L235.4,757.1 L236.1,752.0 L236.8,746.9 L237.5,741.9 L238.2,736.9 L238.8,732.0 L239.5,727.1 L240.1,722.2 L240.8,717.5 L241.4,712.7 L242.1,708.0 L242.8,703.4 L243.4,698.7 L244.1,694.2 L244.7,689.7 L245.4,685.2 L246.0,680.8 L246.7,676.4 L247.4,672.0 L248.0,667.7 L248.7,663.4 L249.3,659.2 L250.0,655.0 L250.7,650.9 L251.3,646.8 L252.0,642.7 L252.7,638.6 L253.3,634.7 L254.0,630.7 L254.7,626.8 L255.4,622.9 L256.0,619.0 L256.7,615.2 L257.4,611.5 L258.1,607.7 L258.7,604.0 L259.4,600.3 L260.1,596.7 L260.8,593.1 L261.4,589.5 L262.1,586.0 L262.8,582.5 L263.5,579.0 L264.2,575.6 L264.9,572.2 L265.5,568.8 L266.2,565.5 L266.9,562.2 L267.6,558.9 L268.3,555.6 L269.0,552.4 L269.7,549.2 L270.4,546.0 L271.1,542.9 L271.8,539.8 L272.5,536.7 L273.2,533.7 L273.9,530.6 L274.6,527.6 L275.3,524.7 L276.0,521.7 L276.7,518.8 L277.4,515.9 L278.1,513.0 L278.8,510.2 L279.5,507.4 L280.2,504.6 L280.9,501.8 L281.6,499.1 L282.3,496.4 L283.0,493.7 L283.7,491.0 L284.4,488.4 L285.1,485.8 L285.8,483.2 L286.5,480.6 L287.2,478.1 L288.0,475.5 L288.7,473.0 L289.4,470.5 L290.1,468.1 L290.8,465.6 L291.5,463.2 L292.2,460.8 L293.0,458.5 L293.7,456.1 L294.4,453.8 L295.1,451.5 L295.8,449.2 L296.6,446.9 L297.3,444.6 L298.0,442.4 L298.7,440.2 L299.4,438.0 L300.2,435.8 L300.9,433.6 L301.6,431.5 L302.3,429.4 L303.1,427.3 L303.8,425.2 L304.5,423.1 L305.2,421.1 L306.0,419.0 L306.7,417.0 L307.4,415.0 L308.1,413.0 L308.9,411.1 L309.6,409.1 L310.3,407.2 L311.0,405.3 L311.8,403.4 L312.5,401.5 L313.2,399.6 L314.7,395.9 L316.1,392.3 L317.6,388.7 L319.0,385.2 L320.5,381.8 L321.9,378.4 L323.3,375.0 L324.8,371.7 L326.2,368.5 L327.7,365.3 L329.1,362.2 L330.6,359.1 L332.0,356.0 L333.4,353.1 L334.9,350.1 L336.3,347.2 L337.8,344.4 L339.2,341.6 L340.6,338.8 L342.1,336.1 L343.5,333.4 L344.9,330.7 L346.3,328.1 L347.8,325.6 L349.2,323.1 L350.6,320.6 L352.0,318.1 L353.5,315.7 L354.9,313.3 L356.3,311.0 L357.7,308.7 L359.1,306.4 L360.5,304.1 L362.0,301.9 L363.4,299.7 L364.8,297.6 L366.2,295.5 L367.6,293.4 L369.0,291.3 L370.4,289.3 L371.8,287.3 L373.2,285.3 L374.6,283.3 L376.0,281.4 L377.4,279.5 L378.8,277.6 L380.2,275.8 L381.6,274.0 L383.0,272.2 L384.4,270.4 L385.7,268.6 L387.1,266.9 L388.5,265.2 L389.9,263.5 L391.3,261.8 L392.7,260.2 L394.1,258.5 L395.5,256.9 L396.8,255.3 L398.2,253.8 L399.6,252.2 L401.0,250.7 L402.4,249.2 L403.7,247.7 L405.1,246.2 L406.5,244.8 L408.6,242.6 L410.7,240.5 L412.7,238.4 L414.8,236.4 L416.9,234.4 L419.0,232.5 L421.0,230.5 L423.1,228.6 L425.2,226.8 L427.3,225.0 L429.4,223.2 L431.5,221.4 L433.6,219.7 L435.6,218.0 L437.7,216.3 L439.8,214.7 L441.9,213.1 L444.0,211.5 L446.1,210.0 L448.2,208.5 L450.3,207.0 L452.4,205.5 L454.5,204.1 L456.7,202.7 L458.8,201.3 L460.9,200.0 L463.0,198.6 L465.1,197.3 L467.2,196.0 L469.3,194.8 L471.4,193.5 L473.5,192.3 L475.6,191.1 L477.7,189.9 L479.9,188.7 L482.0,187.6 L484.1,186.4 L486.2,185.3 L488.3,184.2 L490.4,183.1 L492.5,182.0 L494.6,181.0 L496.7,179.9 L498.8,178.9 L500.9,177.9 L503.0,176.9 L505.1,175.9 L507.2,175.0 L509.3,174.0 L511.4,173.0 L513.5,172.1 L515.6,171.2 L517.7,170.3 L519.8,169.4 L521.9,168.5 L524.0,167.6 L526.1,166.7 L528.2,165.8 L530.3,165.0 L532.4,164.1 L534.5,163.3 L536.6,162.5 L538.7,161.7 L540.8,160.9 L542.9,160.1 L545.0,159.3 L547.1,158.5 L549.2,157.8 L551.2,157.0 L553.3,156.2 L555.4,155.5 L557.5,154.8 L559.6,154.1 L561.7,153.3 L563.8,152.6 L565.9,151.9 L568.0,151.3 L570.1,150.6 L572.2,149.9 L574.3,149.2 L576.4,148.6 L578.5,147.9 L580.6,147.3 L582.7,146.7 L584.8,146.0 L586.9,145.4 L589.0,144.8 L591.1,144.2 L593.2,143.6 L595.3,143.0 L597.4,142.5 L599.5,141.9 L601.6,141.3 L603.7,140.8 L605.8,140.2 L607.9,139.7 L610.0,139.1 L612.1,138.6 L614.2,138.1 L616.3,137.6 L618.4,137.1 L620.5,136.5 L622.6,136.0 L624.7,135.6 L626.8,135.1 L628.9,134.6 L631.0,134.1 L633.1,133.6 L635.2,133.2 L637.3,132.7 L639.4,132.3 L641.5,131.8 L643.6,131.4 L645.7,130.9 L647.8,130.5 L649.9,130.1 L652.0,129.7 L654.1,129.2 L656.2,128.8 L658.3,128.4 L660.4,128.0 L662.5,127.6 L664.6,127.2 L666.7,126.8 L668.8,126.5 L670.9,126.1 L673.0,125.7 L675.2,125.3 L677.3,125.0 L679.4,124.6 L681.5,124.3 L683.6,123.9 L685.7,123.6 L687.8,123.2 L689.9,122.9 L692.0,122.6 L694.1,122.2 L696.2,121.9 L698.3,121.6 L700.4,121.3 L702.5,120.9 L704.6,120.6 L706.7,120.3 L708.8,120.0 L711.0,119.7 L713.1,119.4 L715.2,119.1 L717.3,118.8 L719.4,118.6 L721.5,118.3 L723.6,118.0 L725.7,117.7 L727.8,117.4 L729.9,117.2 L732.0,116.9 L734.1,116.6 L736.2,116.3 L738.3,116.1 L740.4,115.8 L742.5,115.5 L744.6,115.2 L746.7,115.0 L748.8,114.7 L750.9,114.4 L753.0,114.1 L755.1,113.9 L757.2,113.6 L759.3,113.3 L761.4,113.0 L763.5,112.7 L765.6,112.4 L767.7,112.1 L769.8,111.8 L771.9,111.5 L774.0,111.2 L776.1,110.9 L778.2,110.6 L780.3,110.3 L782.4,110.0 L784.5,109.6 L786.6,109.3 L788.7,109.1 L790.8,108.9 L791.5,108.8" stroke="#0000ff" stroke-width="1.8"/>
<path d="M208.4,767.4 L209.1,761.1 L209.8,754.9 L210.5,748.7 L211.2,742.6 L211.9,736.5 L212.7,730.5 L213.4,724.6 L214.1,718.8 L214.8,713.0 L215.5,707.3 L216.2,701.6 L217.0,696.0 L217.7,690.5 L218.4,685.0 L219.1,679.6 L219.8,674.3 L220.5,669.0 L221.2,663.8 L221.9,658.6 L222.6,653.5 L223.3,648.4 L224.0,643.4 L224.8,638.5 L225.5,633.6 L226.2,628.7 L226.9,623.9 L227.6,619.2 L228.3,614.5 L229.0,609.8 L229.7,605.3 L230.4,600.7 L231.1,596.2 L231.8,591.8 L232.5,587.4 L233.2,583.0 L233.9,578.7 L234.6,574.5 L235.3,570.3 L236.0,566.1 L236.7,562.0 L237.4,557.9 L238.1,553.9 L238.8,549.9 L239.5,545.9 L240.2,542.0 L240.9,538.1 L241.6,534.3 L242.3,530.5 L243.0,526.8 L243.7,523.1 L244.4,519.4 L245.1,515.8 L245.8,512.2 L246.5,508.6 L247.2,505.1 L247.9,501.6 L248.6,498.2 L249.3,494.8 L250.0,491.4 L250.7,488.1 L251.4,484.8 L252.1,481.5 L252.8,478.2 L253.4,475.0 L254.1,471.9 L254.8,468.7 L255.5,465.6 L256.2,462.5 L256.9,459.5 L257.6,456.5 L258.3,453.5 L259.0,450.5 L259.7,447.6 L260.4,444.7 L261.1,441.9 L261.8,439.0 L262.5,436.2 L263.2,433.4 L263.9,430.7 L264.6,427.9 L265.3,425.2 L266.0,422.6 L266.7,419.9 L267.4,417.3 L268.1,414.7 L268.8,412.1 L269.5,409.6 L270.2,407.1 L270.9,404.6 L271.6,402.1 L272.3,399.7 L273.0,397.3 L273.7,394.9 L274.4,392.5 L275.1,390.1 L275.7,387.8 L276.4,385.5 L277.1,383.2 L277.8,380.9 L278.5,378.7 L279.2,376.5 L279.9,374.3 L280.6,372.1 L281.3,370.0 L282.0,367.8 L282.7,365.7 L283.4,363.6 L284.1,361.5 L284.8,359.5 L285.5,357.4 L286.2,355.4 L286.9,353.4 L287.6,351.4 L288.3,349.5 L289.0,347.5 L289.7,345.6 L290.4,343.7 L291.1,341.8 L292.5,338.1 L293.9,334.4 L295.3,330.8 L296.7,327.3 L298.1,323.9 L299.5,320.5 L300.9,317.1 L302.3,313.8 L303.7,310.6 L305.1,307.4 L306.5,304.3 L307.9,301.3 L309.3,298.3 L310.7,295.3 L312.1,292.4 L313.5,289.6 L314.9,286.8 L316.3,284.1 L317.7,281.4 L319.1,278.7 L320.5,276.1 L321.9,273.5 L323.3,271.0 L324.7,268.5 L326.2,266.1 L327.6,263.7 L329.0,261.3 L330.4,259.0 L331.8,256.7 L333.2,254.5 L334.6,252.3 L336.0,250.1 L337.4,248.0 L338.8,245.9 L340.2,243.8 L341.6,241.8 L343.0,239.8 L344.4,237.8 L345.8,235.9 L347.3,234.0 L348.7,232.1 L350.1,230.2 L351.5,228.4 L352.9,226.6 L354.3,224.9 L355.7,223.1 L357.1,221.4 L358.5,219.7 L359.9,218.1 L361.3,216.4 L362.7,214.8 L364.2,213.2 L365.6,211.7 L367.0,210.1 L368.4,208.6 L369.8,207.1 L371.2,205.7 L372.6,204.2 L374.0,202.8 L376.1,200.7 L378.2,198.6 L380.4,196.6 L382.5,194.6 L384.6,192.7 L386.7,190.8 L388.8,189.0 L390.9,187.2 L393.0,185.4 L395.1,183.7 L397.3,181.9 L399.4,180.3 L401.5,178.6 L403.6,177.0 L405.7,175.5 L407.8,173.9 L409.9,172.4 L412.0,170.9 L414.1,169.5 L416.2,168.1 L418.4,166.7 L420.5,165.3 L422.6,164.0 L424.7,162.6 L426.8,161.3 L428.9,160.1 L431.0,158.8 L433.1,157.6 L435.2,156.4 L437.3,155.2 L439.4,154.0 L441.5,152.9 L443.6,151.8 L445.8,150.7 L447.9,149.6 L450.0,148.5 L452.1,147.5 L454.2,146.5 L456.3,145.5 L458.4,144.5 L460.5,143.5 L462.6,142.5 L464.7,141.6 L466.8,140.7 L468.9,139.7 L471.0,138.8 L473.1,138.0 L475.2,137.1 L477.3,136.2 L479.4,135.4 L481.5,134.6 L483.6,133.8 L485.7,132.9 L487.8,132.2 L489.9,131.4 L492.0,130.6 L494.2,129.9 L496.3,129.1 L498.4,128.4 L500.5,127.7 L502.6,127.0 L504.7,126.3 L506.8,125.6 L508.9,124.9 L511.0,124.2 L513.1,123.6 L515.2,122.9 L517.3,122.3 L519.4,121.6 L521.5,121.0 L523.6,120.4 L525.7,119.8 L527.8,119.2 L529.9,118.6 L532.0,118.0 L534.1,117.5 L536.2,116.9 L538.3,116.4 L540.4,115.8 L542.5,115.3 L544.6,114.7 L546.7,114.2 L548.8,113.7 L550.9,113.2 L553.0,112.7 L555.1,112.2 L557.2,111.7 L559.3,111.2 L561.5,110.8 L563.6,110.3 L565.7,109.8 L567.8,109.4 L569.9,108.9 L572.0,108.5 L574.1,108.1 L576.2,107.6 L578.3,107.2 L580.4,106.8 L582.5,106.4 L584.6,106.0 L586.7,105.6 L588.8,105.2 L590.9,104.8 L593.0,104.4 L595.1,104.0 L597.2,103.7 L599.3,103.3 L601.4,102.9 L603.5,102.6 L605.6,102.2 L607.7,101.9 L609.9,101.5 L612.0,101.2 L614.1,100.9 L616.2,100.5 L618.3,100.2 L620.4,99.9 L622.5,99.6 L624.6,99.3 L626.7,99.0 L628.8,98.7 L630.9,98.4 L633.0,98.1 L635.1,97.8 L637.2,97.5 L639.3,97.2 L641.4,96.9 L643.5,96.7 L645.6,96.4 L647.7,96.1 L649.9,95.8 L652.0,95.6 L654.1,95.3 L656.2,95.1 L658.3,94.8 L660.4,94.6 L662.5,94.3 L664.6,94.1 L666.7,93.8 L668.8,93.6 L670.9,93.4 L673.0,93.1 L675.1,92.9 L677.2,92.7 L679.3,92.4 L681.4,92.2 L683.5,92.0 L685.6,91.8 L687.7,91.6 L689.8,91.3 L692.0,91.1 L694.1,90.9 L696.2,90.7 L698.3,90.5 L700.4,90.3 L702.5,90.1 L704.6,89.9 L706.7,89.7 L708.8,89.5 L710.9,89.3 L713.0,89.2 L715.1,89.0 L717.2,88.8 L719.3,88.6 L721.4,88.4 L723.5,88.2 L725.6,88.1 L727.7,87.9 L729.8,87.7 L731.9,87.5 L734.0,87.4 L736.1,87.2 L738.3,87.0 L740.4,86.8 L742.5,86.7 L744.6,86.5 L746.7,86.3 L748.8,86.2 L750.9,86.0 L753.0,85.9 L755.1,85.7 L757.2,85.5 L759.3,85.4 L761.4,85.2 L763.5,85.1 L765.6,84.9 L767.7,84.8 L769.8,84.6 L771.9,84.5 L774.0,84.3 L776.1,84.2 L778.2,84.0 L780.3,83.9 L782.4,83.7 L784.5,83.6 L786.6,83.4 L788.7,83.3 L790.9,83.2 L791.6,83.1" stroke="#000" stroke-width="1.6"/>
</g>
<line x1="389.1" y1="45.85" x2="389.1" y2="741.2" stroke="#000" stroke-width="1.8" stroke-dasharray="1.7 4.55"/>
<path d="M339.4,99.1H439.2M424.3,85.6L439.2,99.1L424.3,112.5" stroke="#000" stroke-width="1.7" fill="none"/>
<path d="M314.6,264.7H389.1M374.9,251.5L389.1,264.7L374.9,277.6" stroke="#000" stroke-width="1.7" fill="none"/>
<line x1="584" y1="424.5" x2="621.7" y2="424.5" stroke="#000" stroke-width="1.6"/>
<line x1="584" y1="475.3" x2="621.7" y2="475.3" stroke="#0000ff" stroke-width="1.6"/>
<line x1="584" y1="526" x2="621.7" y2="526" stroke="#ff0000" stroke-width="1.6"/>
<line x1="584" y1="576.9" x2="621.7" y2="576.9" stroke="#00ff00" stroke-width="1.6"/>
<g font-size="28">
<text x="165" y="774.8" textLength="53" lengthAdjust="spacingAndGlyphs">−22</text>
<text x="265" y="774.8" textLength="52.5" lengthAdjust="spacingAndGlyphs">−20</text>
<text x="364.2" y="774.8" textLength="51.5" lengthAdjust="spacingAndGlyphs">−18</text>
<text x="463.9" y="774.8" textLength="51.5" lengthAdjust="spacingAndGlyphs">−16</text>
<text x="563.3" y="774.8" textLength="51.5" lengthAdjust="spacingAndGlyphs">−14</text>
<text x="663" y="774.8" textLength="51.5" lengthAdjust="spacingAndGlyphs">−12</text>
<text x="762" y="774.8" textLength="51" lengthAdjust="spacingAndGlyphs">−10</text>
<text x="67.8" y="215.4" textLength="56" lengthAdjust="spacingAndGlyphs">0.01</text>
<text x="50.8" y="483" textLength="72.5" lengthAdjust="spacingAndGlyphs">0.001</text>
<text x="34.3" y="751.3" textLength="89.5" lengthAdjust="spacingAndGlyphs">0.0001</text>
</g>
<g transform="translate(33,601.4) rotate(-90)" font-size="37.5">
<text x="-2" y="0">S</text>
<text x="20.6" y="0" textLength="19.3" lengthAdjust="spacingAndGlyphs">F</text>
<text x="42.6" y="0" textLength="21.2" lengthAdjust="spacingAndGlyphs">R</text>
<text x="66.8" y="10.9" font-size="25.7" textLength="48.5" lengthAdjust="spacingAndGlyphs">cum</text>
<path d="M145.6,-29.6H138.1V7.6H145.6" fill="none" stroke="#000" stroke-width="2"/>
<text x="150.6" y="0" textLength="25" lengthAdjust="spacingAndGlyphs">M</text>
<circle cx="185.7" cy="2.7" r="7" fill="none" stroke="#000" stroke-width="1.6"/>
<circle cx="185.7" cy="2.7" r="2" fill="#000"/>
<text x="213.6" y="0">y</text>
<text x="235.5" y="0" textLength="14.6" lengthAdjust="spacingAndGlyphs">r</text>
<text x="254.3" y="-10.7" font-size="23.5">−</text><text x="270.8" y="-10.7" font-size="23.5">1</text>
<text x="302.7" y="0" textLength="25" lengthAdjust="spacingAndGlyphs">M</text>
<text x="330.8" y="0" textLength="20" lengthAdjust="spacingAndGlyphs">p</text>
<text x="353.9" y="0" textLength="18" lengthAdjust="spacingAndGlyphs">c</text>
<text x="375.7" y="-10.7" font-size="23.5">−</text><text x="390.5" y="-10.7" font-size="23.5" textLength="14.9" lengthAdjust="spacingAndGlyphs">3</text>
<path d="M407.7,-29.6H415V7.6H407.7" fill="none" stroke="#000" stroke-width="2"/>
</g>
<text x="437.3" y="817.4" font-size="37.5" textLength="25.2" lengthAdjust="spacingAndGlyphs">M</text>
<text class="ss" x="464.2" y="827.8" font-size="21.8" textLength="27.4" lengthAdjust="spacingAndGlyphs">AB</text>
<g font-size="27.5">
<text x="176.5" y="106.8" textLength="15.8" lengthAdjust="spacingAndGlyphs">C</text>
<path d="M194.8,112.2L210.4,85.2" stroke="#000" stroke-width="1.6"/>
<text x="212.6" y="106.8" textLength="9" lengthAdjust="spacingAndGlyphs">f</text>
<text class="ss" x="222.4" y="114.8" font-size="15.4" font-weight="bold" textLength="27.4" lengthAdjust="spacingAndGlyphs">esc</text>
<text x="251.9" y="106.8" textLength="17.5" lengthAdjust="spacingAndGlyphs">=</text><text x="272" y="106.8" textLength="32.5" lengthAdjust="spacingAndGlyphs">25</text>
<text x="176.5" y="273.6" textLength="15.8" lengthAdjust="spacingAndGlyphs">C</text>
<path d="M194.8,279L210.4,252" stroke="#000" stroke-width="1.6"/>
<text x="212.6" y="273.6" textLength="9" lengthAdjust="spacingAndGlyphs">f</text>
<text class="ss" x="222.4" y="281.6" font-size="15.4" font-weight="bold" textLength="27.4" lengthAdjust="spacingAndGlyphs">esc</text>
<text x="251.9" y="273.6" textLength="17.5" lengthAdjust="spacingAndGlyphs">=</text><text x="272" y="273.6" textLength="15.7" lengthAdjust="spacingAndGlyphs">6</text>
</g>
<g font-size="36.5">
<text x="649" y="435.7">z</text><text x="669.4" y="435.7" textLength="24.3" lengthAdjust="spacingAndGlyphs">=</text><text x="697.7" y="435.7" textLength="20.1" lengthAdjust="spacingAndGlyphs">6</text>
<text x="649" y="485.5" style="fill:#0000ff">z</text><text x="669.4" y="485.5" textLength="24.3" lengthAdjust="spacingAndGlyphs" style="fill:#0000ff">=</text><text x="697.7" y="485.5" textLength="20.1" lengthAdjust="spacingAndGlyphs" style="fill:#0000ff">7</text>
<text x="649" y="536.4" style="fill:#ff0000">z</text><text x="669.4" y="536.4" textLength="24.3" lengthAdjust="spacingAndGlyphs" style="fill:#ff0000">=</text><text x="697.7" y="536.4" textLength="20.1" lengthAdjust="spacingAndGlyphs" style="fill:#ff0000">8</text>
<text x="649" y="587.6" style="fill:#00ff00">z</text><text x="669.4" y="587.6" textLength="24.3" lengthAdjust="spacingAndGlyphs" style="fill:#00ff00">=</text><text x="697.7" y="587.6" textLength="20.1" lengthAdjust="spacingAndGlyphs" style="fill:#00ff00">9</text>
</g>
<g font-size="35">
<text x="534.5" y="703.8" textLength="76.5" lengthAdjust="spacingAndGlyphs">ICLF</text>
<text transform="translate(631,703.8) scale(1.1,1)" x="0" y="0" textLength="102.9" lengthAdjust="spacing">model</text>
</g>

</svg></body></html>
